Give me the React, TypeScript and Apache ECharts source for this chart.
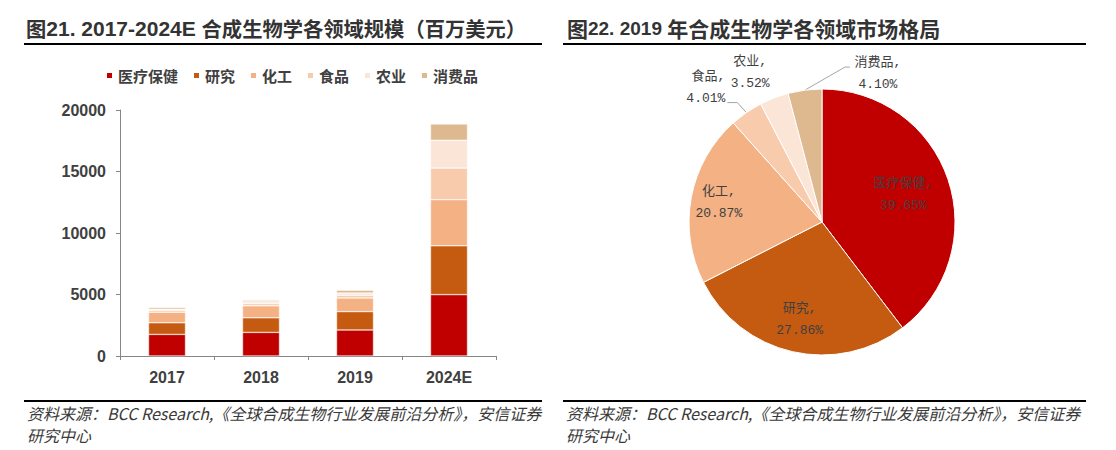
import React, { useEffect, useRef } from 'react';
import * as echarts from 'echarts';

// ---------- data ----------
const categories = ['2017', '2018', '2019', '2024E'];
const fieldNames = ['医疗保健', '研究', '化工', '食品', '农业', '消费品'];
const healthcare = [1755, 1917, 2119, 4993];
const research = [945, 1188, 1489, 3968];
const chemicals = [865, 972, 1115, 3751];
const food = [160, 189, 214, 2564];
const agriculture = [80, 135, 188, 2267];
const consumer = [135, 135, 219, 1323];
const barSeriesValues = [healthcare, research, chemicals, food, agriculture, consumer];

const pieShares = [39.65, 27.86, 20.87, 4.01, 3.52, 4.1];

const yMin = 0;
const yMax = 20000;
const yInterval = 5000;

const leftTitleRich = '{c|图}{l|21. 2017-2024E }{c|合成生物学各领域规模（百万美元）}';
const rightTitleRich = '{c|图}{l|22. 2019 }{c|年合成生物学各领域市场格局}';
const sourceLine1 = '资料来源：BCC Research,《全球合成生物行业发展前沿分析》，安信证券';
const sourceLine2 = '研究中心';

// ---------- style ----------
const colors = ['#C00000', '#C55A11', '#F4B183', '#F8CBAD', '#FBE5D6', '#DEB88F'];
const axisGray = '#868686';
const labelDark = '#404040';
const titleColor = '#333333';
const latinFont = "'Liberation Sans', 'Noto Sans CJK SC', sans-serif";
const cjkFont = "'Noto Sans CJK SC', sans-serif";
const pieLabelFont = "'Liberation Mono', 'Noto Sans CJK SC', monospace";

const pieCenter = [822, 222];
const pieRadius = 133;

const pieFormatter = (p: any) => `${p.name},\n${Number(p.value).toFixed(2)}%`;

const pieLabelStyle = {
  color: '#404040',
  fontFamily: pieLabelFont,
  fontSize: 13,
  lineHeight: 22,
  formatter: pieFormatter,
};

const makeTitleRich = (cjkSize: number, latinSize: number) => ({
  c: { fontFamily: cjkFont, fontWeight: 'bold', fontSize: cjkSize, fill: titleColor, color: titleColor },
  l: { fontFamily: latinFont, fontWeight: 'bold', fontSize: latinSize, fill: titleColor, color: titleColor },
});

const footerStyle = (text: string) => ({
  text, fill: '#3a3a3a', font: `italic 16px ${cjkFont}`, verticalAlign: 'middle',
});

export default function App() {
  const ref = useRef<HTMLDivElement>(null);

  useEffect(() => {
    document.body.style.margin = '0';
    if (!ref.current) return;
    const chart = echarts.init(ref.current, undefined, { renderer: 'svg' });

    const barSeries = barSeriesValues.map((vals, i) => ({
      name: fieldNames[i],
      type: 'bar',
      stack: 'total',
      barWidth: 37,
      data: vals,
      itemStyle: { color: colors[i], borderColor: '#ffffff', borderWidth: 0.5 },
      emphasis: { disabled: true },
    }));

    const mainPie = {
      name: 'pie-main',
      type: 'pie',
      center: pieCenter,
      radius: pieRadius,
      startAngle: 90,
      clockwise: true,
      silent: true,
      avoidLabelOverlap: false,
      itemStyle: { borderColor: '#ffffff', borderWidth: 1 },
      label: { show: true, position: 'outside', ...pieLabelStyle },
      labelLine: { show: true, length: 10, length2: 10, lineStyle: { color: '#a6a6a6', width: 1 } },
      labelLayout: (p: any) => {
        const pts = p.labelLinePoints;
        if (!pts || !pts[0]) return {};
        const ex = pts[0][0];
        const ey = pts[0][1];
        const i = p.dataIndex;
        if (i === 3) {
          return {
            x: ex - 21, y: ey - 25, align: 'right', verticalAlign: 'middle',
            labelLinePoints: [[ex, ey], [ex - 9, ey - 10], [ex - 19, ey - 10]],
          };
        }
        if (i === 4) {
          return {
            x: ex - 24, y: ey - 25, align: 'center', verticalAlign: 'middle',
            labelLinePoints: [[ex, ey], [ex, ey], [ex, ey]],
          };
        }
        if (i === 5) {
          return {
            x: ex + 73, y: ey - 17, align: 'center', verticalAlign: 'middle',
            labelLinePoints: [[ex, ey], [ex + 40, ey - 23], [ex + 45, ey - 23]],
          };
        }
        return {};
      },
      emphasis: { disabled: true },
      data: fieldNames.map((n, i) => ({
        name: n,
        value: pieShares[i],
        itemStyle: { color: colors[i] },
        label: { show: i >= 3 },
        labelLine: { show: i >= 3 },
      })),
    };

    // transparent overlay pies, used only to place the inner labels at chosen radial distances
    const innerLabelRadii = [166, 194, 204];
    const overlayPies = innerLabelRadii.map((R, k) => ({
      name: 'pie-label-' + k,
      type: 'pie',
      center: pieCenter,
      radius: [0, R],
      startAngle: 90,
      clockwise: true,
      silent: true,
      z: 5,
      avoidLabelOverlap: false,
      itemStyle: { color: 'rgba(0,0,0,0)', borderWidth: 0 },
      label: { position: 'inside', ...pieLabelStyle },
      labelLine: { show: false },
      emphasis: { disabled: true },
      data: fieldNames.map((n, i) => ({
        name: n,
        value: pieShares[i],
        label: { show: i === k },
      })),
    }));

    const option: any = {
      animation: false,
      legend: {
        data: fieldNames,
        left: 100,
        top: 63,
        icon: 'rect',
        itemWidth: 7,
        itemHeight: 7,
        itemGap: 14,
        selectedMode: false,
        textStyle: { fontSize: 15, fontWeight: 'bold', color: labelDark, fontFamily: cjkFont },
      },
      grid: { left: 120, right: 620, top: 110, bottom: 94, containLabel: false },
      xAxis: {
        type: 'category',
        data: categories,
        boundaryGap: true,
        axisLine: { show: true, lineStyle: { color: axisGray, width: 1 } },
        axisTick: { show: true, alignWithLabel: false, length: 4, lineStyle: { color: axisGray } },
        axisLabel: { margin: 13, fontSize: 16, fontWeight: 'bold', color: labelDark, fontFamily: latinFont },
      },
      yAxis: {
        type: 'value',
        min: yMin,
        max: yMax,
        interval: yInterval,
        axisLine: { show: true, lineStyle: { color: axisGray, width: 1 } },
        axisTick: { show: true, length: 4, lineStyle: { color: axisGray } },
        splitLine: { show: false },
        axisLabel: {
          margin: 14, fontSize: 16, fontWeight: 'bold', color: labelDark, fontFamily: latinFont,
          formatter: (v: number) => String(v),
        },
      },
      series: [...barSeries, mainPie, ...overlayPies],
      graphic: [
        {
          type: 'text', x: 26, y: 28,
          style: { text: leftTitleRich, rich: makeTitleRich(20.3, 21), verticalAlign: 'middle' },
        },
        {
          type: 'text', x: 567, y: 28,
          style: { text: rightTitleRich, rich: makeTitleRich(21, 19), verticalAlign: 'middle' },
        },
        { type: 'line', shape: { x1: 24, y1: 44, x2: 542, y2: 44 }, style: { stroke: '#000000', lineWidth: 2 } },
        { type: 'line', shape: { x1: 563, y1: 44, x2: 1086, y2: 44 }, style: { stroke: '#000000', lineWidth: 2 } },
        { type: 'line', shape: { x1: 24, y1: 401, x2: 542, y2: 401 }, style: { stroke: '#000000', lineWidth: 2 } },
        { type: 'line', shape: { x1: 563, y1: 401, x2: 1086, y2: 401 }, style: { stroke: '#000000', lineWidth: 2 } },
        { type: 'text', x: 27, y: 413, style: footerStyle(sourceLine1) },
        { type: 'text', x: 27, y: 435, style: footerStyle(sourceLine2) },
        { type: 'text', x: 566, y: 413, style: footerStyle(sourceLine1) },
        { type: 'text', x: 566, y: 435, style: footerStyle(sourceLine2) },
      ],
    };

    chart.setOption(option);
    return () => chart.dispose();
  }, []);

  return <div ref={ref} style={{ width: 1116, height: 450 }} />;
}
